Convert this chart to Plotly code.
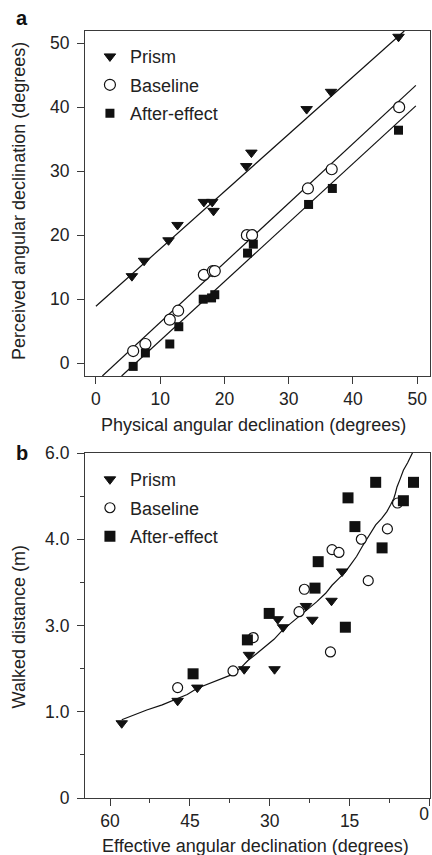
import plotly.graph_objects as go

# ---------------- Panel a data ----------------
prism_a_x = [5.6, 7.5, 11.3, 12.7, 16.8, 18.1, 18.3, 23.4, 24.2, 32.8, 36.6, 47.1]
prism_a_y = [13.6, 16.0, 19.2, 21.6, 25.2, 25.2, 23.8, 30.8, 32.9, 39.7, 42.4, 51.0]
baseline_a_x = [5.8, 7.7, 11.5, 12.8, 16.8, 18.2, 18.5, 23.5, 24.3, 33.0, 36.7, 47.2]
baseline_a_y = [1.9, 3.0, 6.8, 8.2, 13.8, 14.4, 14.4, 20.0, 20.0, 27.3, 30.3, 40.0]
after_a_x = [5.8, 7.7, 11.5, 12.9, 16.7, 18.0, 18.5, 23.6, 24.5, 33.1, 36.8, 47.1]
after_a_y = [-0.5, 1.6, 3.0, 5.7, 10.0, 10.2, 10.7, 17.2, 18.6, 24.8, 27.3, 36.4]

prism_fit_x = [0.0, 48.0]
prism_fit_y = [8.9, 51.9]
baseline_fit_x = [1.0, 49.8]
baseline_fit_y = [-2.0, 43.4]
after_fit_x = [4.0, 49.8]
after_fit_y = [-2.0, 40.2]

a_xticks = [0, 10, 20, 30, 40, 50]
a_yticks = [0, 10, 20, 30, 40, 50]

# ---------------- Panel b data ----------------
prism_b_x = [57.8, 47.3, 43.6, 34.8, 33.9, 29.1, 28.5, 27.5, 23.2, 22.0, 18.4, 16.4]
prism_b_y = [1.30, 1.69, 1.92, 2.24, 2.49, 2.24, 3.11, 2.97, 3.34, 3.10, 3.43, 3.94]
baseline_b_x = [47.3, 36.9, 33.1, 18.6, 24.5, 23.5, 18.3, 17.0, 12.8, 11.5, 7.9, 6.0]
baseline_b_y = [1.92, 2.21, 2.79, 2.54, 3.24, 3.63, 4.32, 4.27, 4.50, 3.78, 4.68, 5.13]
after_b_x = [44.4, 34.2, 30.1, 21.5, 20.9, 15.8, 15.3, 14.0, 8.9, 10.1, 4.9, 3.0]
after_b_y = [2.16, 2.75, 3.21, 3.65, 4.11, 2.97, 5.22, 4.72, 4.35, 5.49, 5.17, 5.49]

curve_x = [57.8, 55.4, 53.1, 50.2, 47.3, 45.5, 43.6, 40.2, 37.0, 35.5, 34.1, 32.6, 31.0,
           29.2, 27.6, 25.5, 23.2, 21.2, 19.5, 18.3, 17.0, 15.9, 14.8, 13.7, 12.65,
           11.4, 10.1, 9.0, 8.0, 7.3, 6.7, 6.4, 6.1, 5.5, 4.9, 4.1, 3.3, 3.1]
curve_y = [1.36, 1.45, 1.53, 1.62, 1.73, 1.80, 1.91, 2.04, 2.15, 2.26, 2.39, 2.50, 2.63,
           2.76, 2.92, 3.08, 3.27, 3.41, 3.56, 3.70, 3.82, 3.92, 4.06, 4.20, 4.37,
           4.55, 4.75, 4.86, 4.98, 5.10, 5.21, 5.30, 5.41, 5.55, 5.70, 5.83, 5.97, 6.02]

b_xticks = [60, 45, 30, 15, 0]
b_xedge_tick = [0]
b_xminor = [52.5, 37.5, 22.5, 7.5]
b_yticks = [0, 1.5, 3.0, 4.5, 6.0]
b_yticktext = ["0", "1.0", "3.0", "4.0", "6.0"]
b_yminor = [0.75, 2.25, 3.75, 5.25]

FONT = "Liberation Sans, Arial, Helvetica, sans-serif"
INK = "#111111"
AX = "#3a3a3a"

fig = go.Figure()

# fit lines panel a
for fx, fy in [(prism_fit_x, prism_fit_y), (baseline_fit_x, baseline_fit_y), (after_fit_x, after_fit_y)]:
    fig.add_trace(go.Scatter(x=fx, y=fy, mode="lines", line=dict(color=INK, width=1.2),
                             showlegend=False, hoverinfo="skip", xaxis="x", yaxis="y"))

fig.add_trace(go.Scatter(x=prism_a_x, y=prism_a_y, mode="markers", name="Prism",
                         marker=dict(symbol="triangle-down", size=10, color=INK, line=dict(color=INK, width=1)),
                         xaxis="x", yaxis="y", legend="legend", legendgroup="pa"))
fig.add_trace(go.Scatter(x=baseline_a_x, y=baseline_a_y, mode="markers", name="Baseline",
                         marker=dict(symbol="circle", size=11, color="white", line=dict(color=INK, width=1.2)),
                         xaxis="x", yaxis="y", legend="legend", legendgroup="ba"))
fig.add_trace(go.Scatter(x=after_a_x, y=after_a_y, mode="markers", name="After-effect",
                         marker=dict(symbol="square", size=9, color=INK, line=dict(width=0)),
                         xaxis="x", yaxis="y", legend="legend", legendgroup="aa"))

# panel b
fig.add_trace(go.Scatter(x=curve_x, y=curve_y, mode="lines", line=dict(color=INK, width=1.2),
                         showlegend=False, hoverinfo="skip", xaxis="x2", yaxis="y2"))
fig.add_trace(go.Scatter(x=prism_b_x, y=prism_b_y, mode="markers", name="Prism",
                         marker=dict(symbol="triangle-down", size=10, color=INK, line=dict(color=INK, width=1)),
                         xaxis="x2", yaxis="y2", legend="legend2", legendgroup="pb"))
fig.add_trace(go.Scatter(x=baseline_b_x, y=baseline_b_y, mode="markers", name="Baseline",
                         marker=dict(symbol="circle", size=10, color="white", line=dict(color=INK, width=1.2)),
                         xaxis="x2", yaxis="y2", legend="legend2", legendgroup="bb"))
fig.add_trace(go.Scatter(x=after_b_x, y=after_b_y, mode="markers", name="After-effect",
                         marker=dict(symbol="square", size=11, color=INK, line=dict(width=0)),
                         xaxis="x2", yaxis="y2", legend="legend2", legendgroup="ab"))
# invisible anchor trace so the overlay axis carrying the edge "0" label is drawn
fig.add_trace(go.Scatter(x=b_xedge_tick, y=[0.0], mode="markers", marker=dict(size=1, opacity=0),
                         showlegend=False, hoverinfo="skip", xaxis="x3", yaxis="y2"))

tickfont = dict(family=FONT, size=17.5, color="#222")
axis_common = dict(showline=True, mirror=True, linecolor=AX, linewidth=1.2, ticks="outside",
                   ticklen=7, tickwidth=1, tickcolor=AX, showgrid=False, zeroline=False,
                   tickfont=tickfont)

B_XRANGE = [64.7, -0.1]

fig.update_layout(
    width=432, height=855,
    margin=dict(l=85, r=2, t=31, b=57),
    paper_bgcolor="white", plot_bgcolor="white",
    font=dict(family=FONT, size=17, color="#222"),
    xaxis=dict(domain=[0, 1], anchor="y", range=[-1.7, 52.0], tickvals=a_xticks, **axis_common),
    yaxis=dict(domain=[0.5502, 1], anchor="x", range=[-2.0, 51.9], tickvals=a_yticks,
               ticklabelstandoff=4, **axis_common),
    xaxis2=dict(domain=[0, 1], anchor="y2", range=B_XRANGE, tickvals=b_xticks,
                minor=dict(tickvals=b_xminor, ticks="outside", ticklen=4, tickcolor=AX, tickwidth=1),
                **axis_common),
    xaxis3=dict(overlaying="x2", anchor="y2", side="bottom", range=B_XRANGE, tickvals=b_xedge_tick,
                ticktext=["0"], showline=False, showgrid=False, zeroline=False, ticks="outside",
                ticklen=7, tickcolor="rgba(0,0,0,0)", ticklabelposition="outside left",
                ticklabeloverflow="allow", tickfont=tickfont),
    yaxis2=dict(domain=[0, 0.4498], anchor="x2", range=[0, 6.0], tickvals=b_yticks, ticktext=b_yticktext,
                ticklabelstandoff=4,
                minor=dict(tickvals=b_yminor, ticks="outside", ticklen=4, tickcolor=AX, tickwidth=1),
                **axis_common),
    legend=dict(x=0.0143, y=0.9906, xanchor="left", yanchor="top", bgcolor="rgba(0,0,0,0)",
                font=dict(family=FONT, size=18, color="#222"), tracegroupgap=2, itemclick=False),
    legend2=dict(x=0.0143, y=0.4392, xanchor="left", yanchor="top", bgcolor="rgba(0,0,0,0)",
                 font=dict(family=FONT, size=18, color="#222"), tracegroupgap=2, itemclick=False),
    annotations=[
        dict(text="Perceived angular declination (degrees)", xref="paper", yref="paper",
             x=-0.1928, y=0.779, xanchor="center", yanchor="middle", textangle=-90, showarrow=False,
             font=dict(family=FONT, size=18, color="#222")),
        dict(text="Physical angular declination (degrees)", xref="paper", yref="paper",
             x=0.487, y=0.4863, xanchor="center", yanchor="middle", showarrow=False,
             font=dict(family=FONT, size=18, color="#222")),
        dict(text="Walked distance (m)", xref="paper", yref="paper",
             x=-0.1928, y=0.223, xanchor="center", yanchor="middle", textangle=-90, showarrow=False,
             font=dict(family=FONT, size=18, color="#222")),
        dict(text="Effective angular declination (degrees)", xref="paper", yref="paper",
             x=0.494, y=-0.0626, xanchor="center", yanchor="middle", showarrow=False,
             font=dict(family=FONT, size=18, color="#222")),
        dict(text="<b>a</b>", xref="paper", yref="paper", x=-0.1826, y=1.017,
             xanchor="center", yanchor="middle", showarrow=False,
             font=dict(family=FONT, size=20, color="#111")),
        dict(text="<b>b</b>", xref="paper", yref="paper", x=-0.1826, y=0.4498,
             xanchor="center", yanchor="middle", showarrow=False,
             font=dict(family=FONT, size=20, color="#111")),
    ],
)

fig.write_html("out.html")
